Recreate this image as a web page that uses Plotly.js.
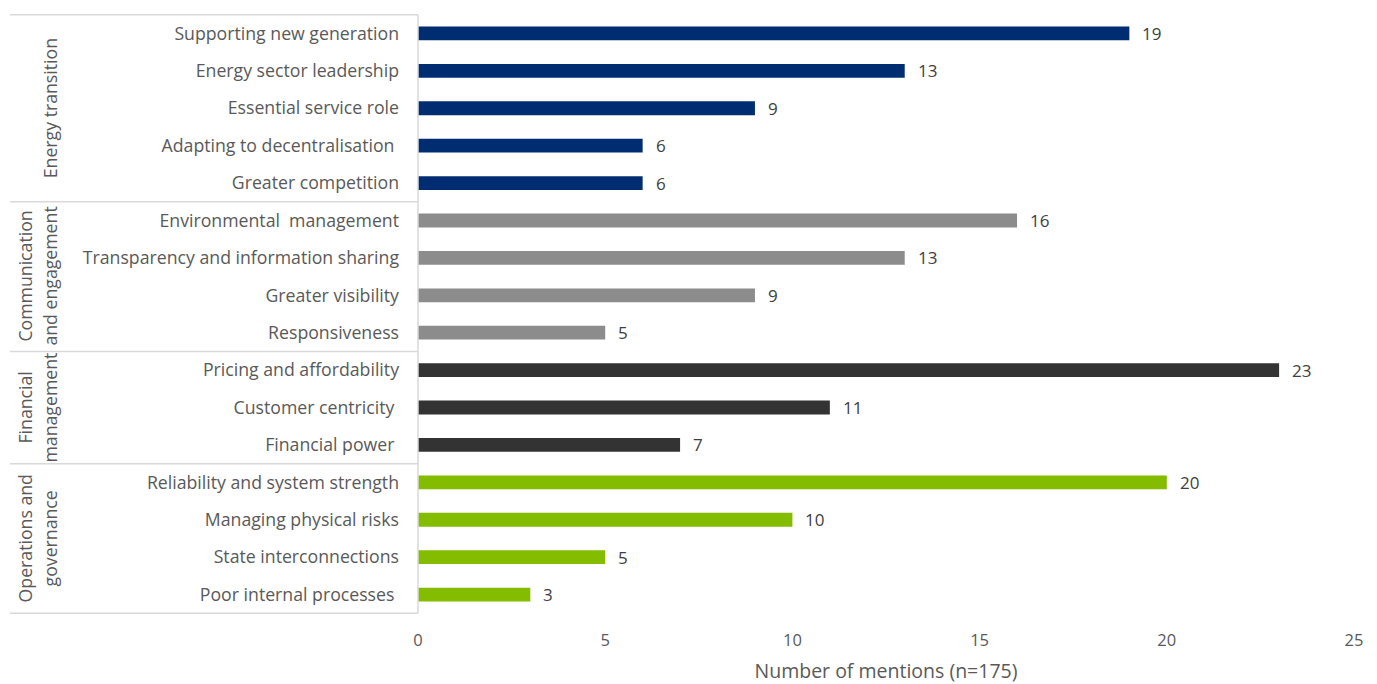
<!DOCTYPE html>
<html>
<head>
<meta charset="utf-8">
<script src="https://cdn.plot.ly/plotly-3.0.1.min.js"></script>
<style>html,body{margin:0;padding:0;background:#fff;}#chart{width:1377px;height:684px;}</style>
</head>
<body>
<div id="chart"></div>
<script>
// Data
const groups = ["Energy transition", "Communication<br>and engagement", "Financial<br>management", "Operations and<br>governance"];
const groupColors = ["#002D72", "#8C8C8C", "#333333", "#84BD00"];
const energyCats = ["Supporting new generation", "Energy sector leadership", "Essential service role", "Adapting to decentralisation ", "Greater competition"];
const energyVals = [19, 13, 9, 6, 6];
const commCats = ["Environmental  management", "Transparency and information sharing", "Greater visibility", "Responsiveness"];
const commVals = [16, 13, 9, 5];
const finCats = ["Pricing and affordability", "Customer centricity ", "Financial power "];
const finVals = [23, 11, 7];
const opsCats = ["Reliability and system strength", "Managing physical risks", "State interconnections", "Poor internal processes "];
const opsVals = [20, 10, 5, 3];
const xTicks = [0, 5, 10, 15, 20, 25];
const xTitle = "Number of mentions (n=175)";

const catSets = [energyCats, commCats, finCats, opsCats];
const valSets = [energyVals, commVals, finVals, opsVals];
const allCats = [].concat(...catSets);

const FONT = "'Open Sans', Lato, sans-serif";
const TXT = "#595959";

const traces = catSets.map((cats, i) => ({
  type: "bar",
  orientation: "h",
  y: cats,
  x: valSets[i],
  marker: {color: groupColors[i]},
  showlegend: false,
  hoverinfo: "x+y"
}));

// group boundaries (category index positions)
const bounds = [-0.5];
let acc = -0.5;
catSets.forEach(c => { acc += c.length; bounds.push(acc); });

const plotLeft = 418, plotWidth = 936;
const px2paper = px => (px - plotLeft) / plotWidth;

const shapes = bounds.map(b => ({
  type: "line", xref: "paper", yref: "y",
  x0: px2paper(10), x1: 0, y0: b, y1: b,
  line: {color: "#D9D9D9", width: 1.5}
}));
shapes.push({type: "line", xref: "paper", yref: "y", x0: 0, x1: 0, y0: -0.5, y1: bounds[bounds.length-1], line: {color: "#D9D9D9", width: 1.5}});

const annotations = [];
groups.forEach((g, i) => {
  const lines = g.split("<br>");
  const center = (bounds[i] + bounds[i+1]) / 2;
  const xs = lines.length === 1 ? [50] : [25, 50];
  lines.forEach((ln, k) => {
    annotations.push({
      text: ln, xref: "paper", yref: "y",
      x: px2paper(xs[k]), y: center,
      textangle: -90, showarrow: false, xanchor: "center", yanchor: "middle",
      font: {family: FONT, size: 17.7, color: TXT}
    });
  });
});

// value labels placed via data coordinates
catSets.forEach((cats, i) => {
  cats.forEach((c, j) => {
    annotations.push({
      text: String(valSets[i][j]), xref: "x", yref: "y",
      x: valSets[i][j], y: c, xanchor: "left", yanchor: "middle",
      xshift: 11, showarrow: false,
      font: {family: FONT, size: 17, color: "#404040"}
    });
  });
});

const layout = {
  width: 1377, height: 684,
  margin: {l: 418, r: 23, t: 14, b: 70},
  paper_bgcolor: "#fff", plot_bgcolor: "#fff",
  bargap: 0.63,
  font: {family: FONT, color: TXT},
  xaxis: {
    range: [0, 25], tickvals: xTicks, showgrid: false, zeroline: false,
    showline: false, ticks: "", ticklabelstandoff: 14,
    tickfont: {family: FONT, size: 16.5, color: TXT},
    title: {text: xTitle, font: {family: FONT, size: 19.5, color: TXT}, standoff: 18}
  },
  yaxis: {
    type: "category", categoryorder: "array", categoryarray: allCats,
    autorange: "reversed", showgrid: false, zeroline: false, showline: false,
    ticks: "", ticklabelstandoff: 18,
    tickfont: {family: FONT, size: 17.7, color: TXT}
  },
  shapes: shapes,
  annotations: annotations
};

Plotly.newPlot("chart", traces, layout, {displayModeBar: false, staticPlot: true});
</script>
</body>
</html>
